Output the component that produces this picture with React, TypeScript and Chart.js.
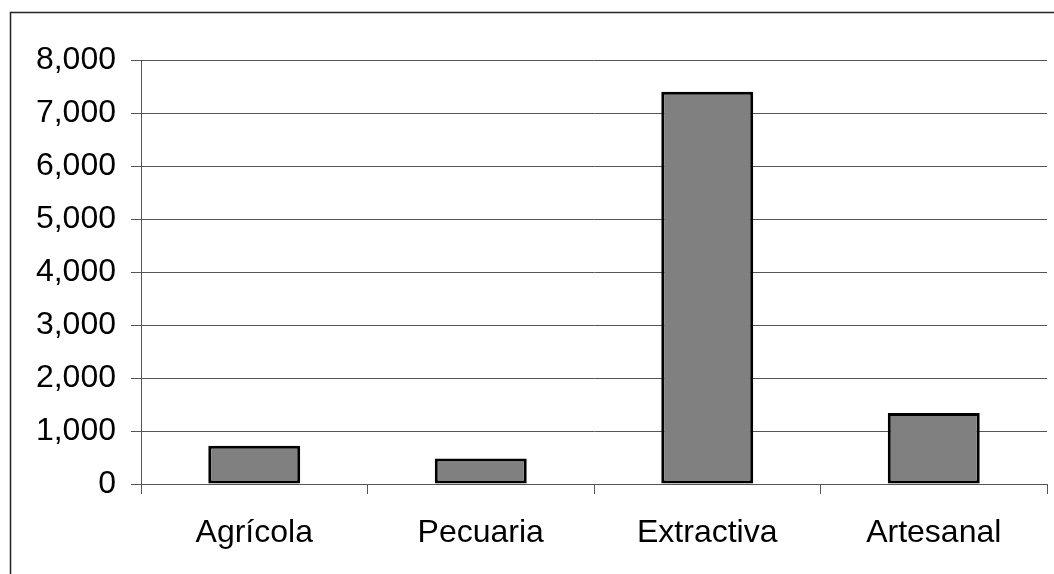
import React, { useEffect, useRef } from "react";
import { Chart, registerables } from "chart.js";

Chart.register(...registerables);

const categories = ["Agrícola", "Pecuaria", "Extractiva", "Artesanal"];
const values = [720, 480, 7400, 1340];
const yTicks = [0, 1000, 2000, 3000, 4000, 5000, 6000, 7000, 8000];

const FONT = "'Liberation Sans', Arial, sans-serif";

const frame = {
  id: "frame",
  beforeDraw(chart: any) {
    const ctx = chart.ctx;
    ctx.save();
    ctx.fillStyle = "#ffffff";
    ctx.fillRect(0, 0, chart.width, chart.height);
    ctx.strokeStyle = "#222222";
    ctx.lineWidth = 1.5;
    ctx.strokeRect(10.5, 12.5, 1200, 700);
    ctx.restore();
  },
};

export default function App() {
  const ref = useRef<HTMLCanvasElement | null>(null);
  useEffect(() => {
    if (!ref.current) return;
    const chart = new Chart(ref.current, {
      type: "bar",
      data: {
        labels: categories,
        datasets: [
          {
            data: values,
            backgroundColor: "#808080",
            borderColor: "#000000",
            borderWidth: 3,
            borderSkipped: false,
            categoryPercentage: 1,
            barPercentage: 0.406,
          },
        ],
      },
      options: {
        animation: false,
        responsive: false,
        devicePixelRatio: 1,
        layout: { padding: { left: 0, right: 7, top: 60, bottom: 0 } },
        plugins: { legend: { display: false }, tooltip: { enabled: false } },
        scales: {
          x: {
            afterFit: (s: any) => {
              s.height = 90;
            },
            grid: {
              drawOnChartArea: false,
              drawTicks: true,
              tickLength: 10,
              color: "#555555",
              lineWidth: 1,
            },
            border: { display: true, color: "#555555", width: 1 },
            ticks: {
              color: "#000000",
              padding: 20,
              font: { family: FONT, size: 32 },
            },
          },
          y: {
            min: 0,
            max: 8000,
            afterFit: (s: any) => {
              s.width = 141;
            },
            afterBuildTicks: (s: any) => {
              s.ticks = yTicks.map((v) => ({ value: v }));
            },
            grid: {
              color: "#555555",
              lineWidth: 1,
              tickLength: 10,
            },
            border: { display: true, color: "#555555", width: 1 },
            ticks: {
              color: "#000000",
              padding: 15,
              font: { family: FONT, size: 32 },
              callback: (v: any) => Number(v).toLocaleString("en-US"),
            },
          },
        },
      },
      plugins: [frame],
    });
    return () => chart.destroy();
  }, []);
  return (
    <div style={{ position: "fixed", left: 0, top: 0, width: 1054, height: 574 }}>
      <canvas ref={ref} width={1054} height={574} style={{ width: 1054, height: 574 }} />
    </div>
  );
}
